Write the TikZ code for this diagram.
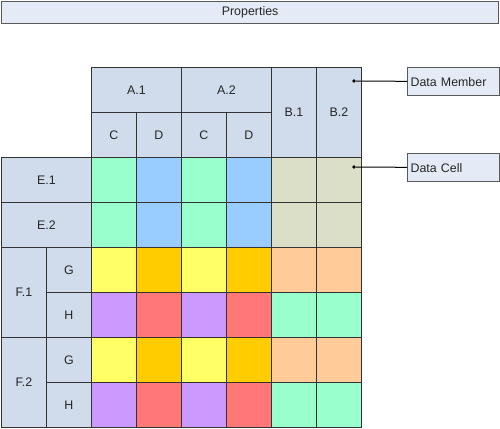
\documentclass[tikz,border=0pt]{standalone}
\usepackage{fontspec}
\setmainfont{Liberation Sans}
\usepackage{tikz}
\usetikzlibrary{positioning}
\definecolor{hdrblue}{HTML}{D0DCEC}
\definecolor{noteblue}{HTML}{E4EBF6}
\definecolor{gridline}{HTML}{333333}
\definecolor{cg}{HTML}{99FFCC}
\definecolor{cb}{HTML}{99CCFF}
\definecolor{ck}{HTML}{DCDFC8}
\definecolor{cy}{HTML}{FFFF66}
\definecolor{co}{HTML}{FFCC00}
\definecolor{cp}{HTML}{FFCC99}
\definecolor{cv}{HTML}{CC99FF}
\definecolor{cr}{HTML}{FF7777}
\tikzset{
    x=1pt,y=-1pt,
    every node/.style={font=\fontsize{12.4}{14}\selectfont, text=black!85},
    cell/.style={draw=gridline, line width=0.9pt, anchor=north west, inner sep=0pt,
        minimum width=45pt, minimum height=45pt},
    hdr/.style={cell, fill=hdrblue},
    note/.style={draw=black!65, fill=noteblue, line width=1.2pt, anchor=north west,
        minimum width=92pt, minimum height=28pt, text width=86pt, align=left, inner sep=3pt},
    point/.style={circle, fill=black, inner sep=1.3pt, node contents={}},
    leader/.style={draw=black, line width=1pt}
}
\begin{document}
\begin{tikzpicture}
    \useasboundingbox (0,0) rectangle (500,428);
    \node[note, minimum width=497pt, minimum height=22pt, text width=490pt, align=center] (props) at (1,1) {Properties};
    % column headers
    \node[hdr, minimum width=90pt] (a1) at (91,67) {A.1};
    \node[hdr, minimum width=90pt] (a2) at (181,67) {A.2};
    \node[hdr] (a1c) at (91,112) {C};
    \node[hdr] (a1d) at (136,112) {D};
    \node[hdr] (a2c) at (181,112) {C};
    \node[hdr] (a2d) at (226,112) {D};
    \node[hdr, minimum height=90pt] (b1) at (271,67) {B.1};
    \node[hdr, minimum height=90pt] (b2) at (316,67) {B.2};
    % row headers
    \node[hdr, minimum width=90pt] (e1) at (1,157) {E.1};
    \node[hdr, minimum width=90pt] (e2) at (1,202) {E.2};
    \node[hdr, minimum height=90pt] (f1) at (1,247) {F.1};
    \node[hdr] (f1g) at (46,247) {G};
    \node[hdr] (f1h) at (46,292) {H};
    \node[hdr, minimum height=90pt] (f2) at (1,337) {F.2};
    \node[hdr] (f2g) at (46,337) {G};
    \node[hdr] (f2h) at (46,382) {H};
    % data cells
    \foreach \cols [count=\r] in {{cg,cb,cg,cb,ck,ck},{cg,cb,cg,cb,ck,ck},
        {cy,co,cy,co,cp,cp},{cv,cr,cv,cr,cg,cg},{cy,co,cy,co,cp,cp},{cv,cr,cv,cr,cg,cg}}
        \foreach \c [count=\k] in \cols
            \node[cell, fill=\c] (cell\r\k) at ({46+45*\k},{112+45*\r}) {};
    % callouts
    \node (memberdot) at (354,81) [point];
    \node[note] (member) at (407,67) {Data Member};
    \path (memberdot) edge[leader] (member);
    \node (celldot) at (354,167) [point];
    \node[note] (datacell) at (407,153) {Data Cell};
    \path (celldot) edge[leader] (datacell);
\end{tikzpicture}
\end{document}
